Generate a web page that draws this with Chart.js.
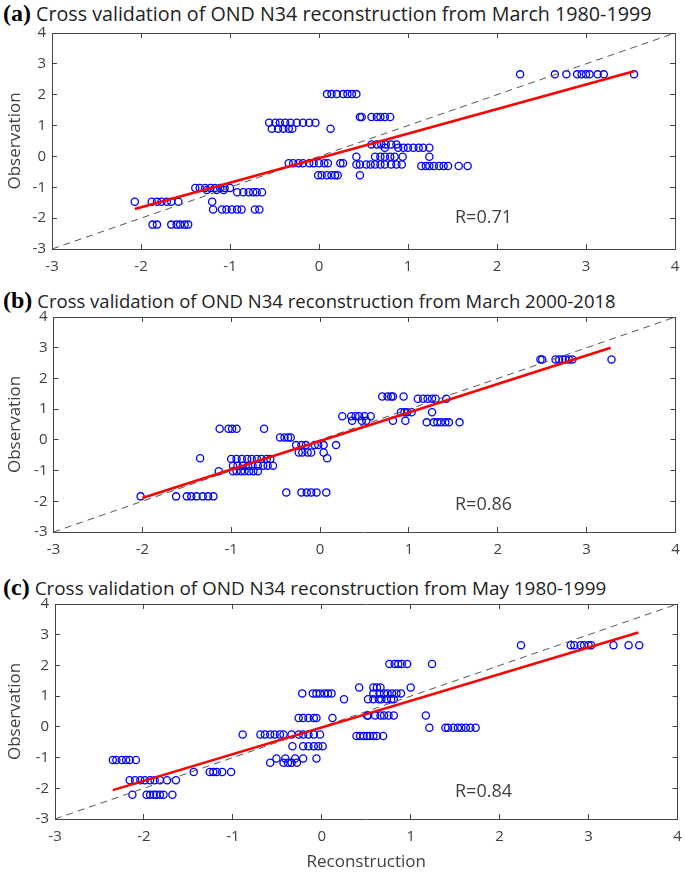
<!DOCTYPE html>
<html>
<head>
<meta charset="utf-8">
<script src="https://cdn.jsdelivr.net/npm/chart.js@4.4.0/dist/chart.umd.min.js"></script>
<style>
  body { margin: 0; background: #fff; width: 685px; height: 875px; position: relative; overflow: hidden; font-family: "Open Sans", sans-serif; }
  canvas { position: absolute; left: 0; }
  .title { position: absolute; left: 3px; white-space: nowrap; color: #222; font-size: 19.7px; line-height: 24px; }
  .title b { font-family: "Liberation Serif", serif; font-size: 24px; margin-right: 5px; color: #000; }
  .rval { position: absolute; left: 455px; font-size: 18px; line-height: 22px; color: #404040; }
</style>
</head>
<body>
<div class="title" style="top:1px"><b>(a)</b>Cross validation of OND N34 reconstruction from March 1980-1999</div>
<div class="title" style="top:288px; font-size:18.5px"><b>(b)</b>Cross validation of OND N34 reconstruction from March 2000-2018</div>
<div class="title" style="top:575px; font-size:18.9px"><b>(c)</b>Cross validation of OND N34 reconstruction from May 1980-1999</div>
<canvas id="chartA" width="685" height="282" style="top:0px"></canvas>
<canvas id="chartB" width="685" height="282" style="top:285px"></canvas>
<canvas id="chartC" width="685" height="305" style="top:570px"></canvas>
<div class="rval" style="top:205px">R=0.71</div>
<div class="rval" style="top:492px">R=0.86</div>
<div class="rval" style="top:779px">R=0.84</div>
<script>
const axisMin = -3;
const axisMax = 4;
const diagX = [-3, 4];
const diagY = [-3, 4];

// (a) March 1980-1999: observed value of each row, reconstructions in that row
const obsA = [2.66, 2.02, 1.28, 1.09, 0.90, 0.39, 0.28, -0.01, -0.22, -0.26, -0.31, -0.61, -1.02, -1.09, -1.16, -1.47, -1.72, -2.21];
const recA = [
  [2.26, 2.65, 2.78, 2.90, 2.95, 3.00, 3.04, 3.13, 3.20, 3.54],
  [0.09, 0.14, 0.20, 0.27, 0.32, 0.37, 0.42],
  [0.46, 0.48, 0.59, 0.65, 0.69, 0.74, 0.80],
  [-0.56, -0.49, -0.44, -0.38, -0.32, -0.25, -0.18, -0.11, -0.04],
  [-0.53, -0.46, -0.40, -0.34, -0.30, 0.13],
  [0.59, 0.65, 0.70, 0.75, 0.81, 0.87],
  [0.74, 0.89, 0.95, 1.00, 1.06, 1.12, 1.17, 1.24],
  [0.42, 0.63, 0.69, 0.74, 0.80, 0.85, 0.94, 1.24],
  [-0.34, -0.29, -0.23, -0.18, -0.11, -0.06, 0.00, 0.06, 0.10, 0.24, 0.27],
  [0.42, 0.46, 0.53, 0.58, 0.63, 0.69, 0.74, 0.81, 0.87, 0.93],
  [1.15, 1.20, 1.24, 1.29, 1.35, 1.40, 1.45, 1.57, 1.67],
  [-0.01, 0.03, 0.09, 0.14, 0.18, 0.21, 0.46],
  [-1.39, -1.34, -1.28, -1.22, -1.17, -1.11, -1.06, -1.00],
  [-1.26, -1.15, -1.07],
  [-0.92, -0.85, -0.79, -0.74, -0.70, -0.64],
  [-2.07, -1.88, -1.82, -1.77, -1.71, -1.66, -1.58, -1.20],
  [-1.19, -1.09, -1.04, -0.98, -0.92, -0.87, -0.72, -0.67],
  [-1.87, -1.82, -1.66, -1.60, -1.56, -1.51, -1.47]
];
const fitAX = [-2.07, 3.54];
const fitAY = [-1.70, 2.76];

// (b) March 2000-2018
const obsB = [2.62, 1.41, 1.34, 0.90, 0.77, 0.62, 0.57, 0.36, 0.08, -0.17, -0.41, -0.60, -0.62, -0.84, -1.02, -1.71, -1.84];
const recB = [
  [2.48, 2.50, 2.65, 2.69, 2.73, 2.76, 2.80, 2.84, 3.28],
  [0.70, 0.76, 0.80, 0.82, 0.94],
  [1.10, 1.16, 1.21, 1.26, 1.30, 1.42],
  [0.91, 0.95, 0.98, 1.03, 1.26],
  [0.25, 0.35, 0.40, 0.44, 0.50, 0.57],
  [0.36, 0.47, 0.52, 0.82, 0.96],
  [1.20, 1.28, 1.32, 1.36, 1.41, 1.45, 1.57],
  [-1.13, -1.03, -0.99, -0.94, -0.63],
  [-0.45, -0.40, -0.36, -0.33],
  [-0.27, -0.21, -0.16, -0.06, -0.02, 0.04, 0.18],
  [-0.24, -0.20, -0.14, -0.10, 0.04],
  [-1.35, 0.08],
  [-1.00, -0.94, -0.88, -0.82, -0.77, -0.71, -0.66, -0.60, -0.56],
  [-0.98, -0.93, -0.87, -0.81, -0.76, -0.70, -0.64, -0.59, -0.53],
  [-1.14, -0.98, -0.94, -0.89, -0.85, -0.80, -0.75, -0.70],
  [-0.38, -0.21, -0.15, -0.10, -0.04, 0.07],
  [-2.02, -1.62, -1.50, -1.45, -1.39, -1.32, -1.26, -1.20]
];
const fitBX = [-2.00, 3.27];
const fitBY = [-1.89, 3.00];

// (c) May 1980-1999
const obsC = [2.66, 2.05, 1.28, 1.09, 1.09, 0.90, 0.37, 0.29, -0.03, -0.25, -0.30, -0.63, -1.03, -1.17, -1.08, -1.47, -1.74, -2.21];
const recC = [
  [2.24, 2.80, 2.84, 2.91, 2.95, 3.00, 3.03, 3.28, 3.45, 3.57],
  [0.76, 0.82, 0.86, 0.90, 0.96, 1.24],
  [0.42, 0.58, 0.62, 0.66, 1.00],
  [-0.22, -0.10, -0.06, -0.02, 0.03, 0.07, 0.11],
  [0.58, 0.65, 0.70, 0.74, 0.79, 0.84, 0.89],
  [0.25, 0.52, 0.58, 0.64, 0.67, 0.73, 0.78, 0.81],
  [0.51, 0.52, 0.60, 0.66, 0.70, 0.75, 0.81, 1.17],
  [-0.26, -0.21, -0.15, -0.09, -0.06, 0.12],
  [1.21, 1.39, 1.42, 1.48, 1.53, 1.57, 1.62, 1.67, 1.73],
  [-0.89, -0.69, -0.64, -0.58, -0.53, -0.47, -0.43, -0.34, -0.26, -0.21, -0.15, -0.09, -0.02],
  [0.39, 0.43, 0.47, 0.51, 0.54, 0.58, 0.62, 0.69],
  [-0.33, -0.21, -0.15, -0.09, -0.04, 0.01],
  [-0.51, -0.41, -0.30, -0.21, -0.06],
  [-0.58, -0.43, -0.38, -0.34, -0.28],
  [-2.35, -2.31, -2.25, -2.20, -2.16, -2.09],
  [-1.44, -1.26, -1.22, -1.18, -1.12, -1.02],
  [-2.16, -2.10, -2.04, -1.99, -1.93, -1.88, -1.82, -1.74, -1.64],
  [-2.13, -1.97, -1.93, -1.89, -1.86, -1.82, -1.78, -1.68]
];
const fitCX = [-2.35, 3.56];
const fitCY = [-2.06, 3.07];

const font = '"Open Sans", sans-serif';
const axisColor = '#444';
const textColor = '#404040';

function pairs(xs, ys) {
  return xs.map((x, i) => ({ x: x, y: ys[i] }));
}

// stop edge tick labels from pushing the plot area inward
function noPad(s) {
  s.paddingLeft = 0; s.paddingRight = 0; s.paddingTop = 0; s.paddingBottom = 0;
}

function makePanel(id, obs, rec, fitX, fitY, box) {
  const points = [];
  rec.forEach((row, i) => row.forEach(x => points.push({ x: x, y: obs[i] })));

  const frame = (pos) => ({
    type: 'linear', position: pos, min: axisMin, max: axisMax,
    ticks: { display: false, stepSize: 1 },
    grid: { drawOnChartArea: false, tickLength: -5, color: axisColor },
    border: { color: axisColor, width: 1 },
    afterFit: s => { if (pos === 'top') s.height = 0; else s.width = 0; noPad(s); }
  });

  new Chart(document.getElementById(id), {
    type: 'scatter',
    data: {
      datasets: [
        {
          data: pairs(fitX, fitY), showLine: true, borderColor: '#ff0000', borderWidth: 2.6,
          pointRadius: 0, order: 0
        },
        {
          data: pairs(diagX, diagY), showLine: true, borderColor: '#555', borderWidth: 1,
          borderDash: [7, 5], pointRadius: 0, order: 1
        },
        {
          data: points, pointRadius: 3.6, pointBorderWidth: 1.3, borderColor: '#0000ff',
          backgroundColor: 'rgba(0,0,0,0)', order: 2
        }
      ]
    },
    options: {
      responsive: false,
      devicePixelRatio: 1,
      animation: false,
      layout: { padding: { top: box.top, right: box.right, left: 0, bottom: 0 } },
      plugins: { legend: { display: false }, tooltip: { enabled: false } },
      scales: {
        x: {
          type: 'linear', position: 'bottom', min: axisMin, max: axisMax,
          ticks: { stepSize: 1, color: textColor, font: { family: font, size: 15 }, padding: 14 },
          grid: { drawOnChartArea: false, tickLength: -5, color: axisColor },
          border: { color: axisColor, width: 1 },
          title: {
            display: box.xTitle, text: 'Reconstruction', color: textColor,
            font: { family: font, size: 17 }, padding: { top: 2, bottom: 3 }
          },
          afterFit: s => { s.height = box.xh; noPad(s); }
        },
        y: {
          type: 'linear', position: 'left', min: axisMin, max: axisMax,
          ticks: { stepSize: 1, color: textColor, font: { family: font, size: 15 }, padding: 11 },
          grid: { drawOnChartArea: false, tickLength: -5, color: axisColor },
          border: { color: axisColor, width: 1 },
          title: {
            display: true, text: 'Observation', color: textColor,
            font: { family: font, size: 17 }, padding: { top: 5, bottom: 4 }
          },
          afterFit: s => { s.width = box.left; noPad(s); }
        },
        x2: frame('top'),
        y2: frame('right')
      }
    }
  });
}

makePanel('chartA', obsA, recA, fitAX, fitAY, { top: 33, right: 10, left: 52, xh: 33, xTitle: false });
makePanel('chartB', obsB, recB, fitBX, fitBY, { top: 32, right: 9.5, left: 53.5, xh: 35, xTitle: false });
makePanel('chartC', obsC, recC, fitCX, fitCY, { top: 34, right: 7.5, left: 55, xh: 56, xTitle: true });
</script>
</body>
</html>
